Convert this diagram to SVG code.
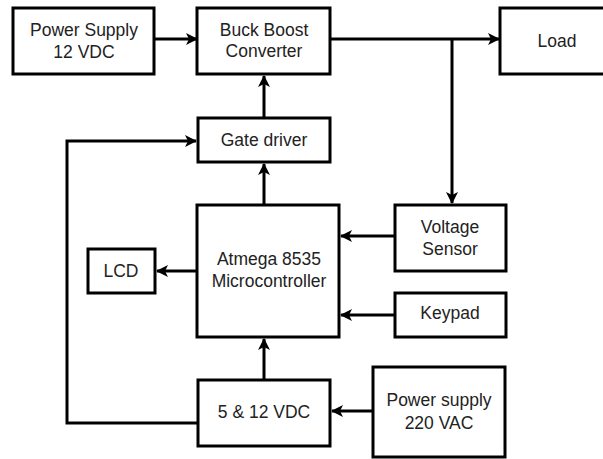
<svg xmlns="http://www.w3.org/2000/svg" width="603" height="459" viewBox="0 0 603 459">
<defs>
<marker id="ah" viewBox="0 0 12 12" refX="11" refY="6" markerWidth="12" markerHeight="12" markerUnits="userSpaceOnUse" orient="auto">
<path d="M0,0 L12,6 L0,12 L3,6 Z" fill="#000"/>
</marker>
<style>
.box{fill:#fff;stroke:#000;stroke-width:3}
.t{font-family:"Liberation Sans",Arial,sans-serif;font-size:17.5px;fill:#222;text-anchor:middle}
.c{fill:none;stroke:#000;stroke-width:3}
.a{marker-end:url(#ah)}
</style>
</defs>
<rect width="603" height="459" fill="#fff"/>
<g id="connectors">
<line class="c a" x1="154" y1="39" x2="197" y2="39"/>
<line class="c a" x1="330" y1="39" x2="499" y2="39"/>
<polyline class="c a" points="452,39 452,203"/>
<line class="c a" x1="264" y1="118" x2="264" y2="76"/>
<line class="c a" x1="264" y1="205" x2="264" y2="164"/>
<line class="c a" x1="197" y1="271" x2="157" y2="271"/>
<line class="c a" x1="395" y1="236" x2="341" y2="236"/>
<line class="c a" x1="395" y1="315" x2="341" y2="315"/>
<line class="c a" x1="264" y1="380" x2="264" y2="339"/>
<line class="c a" x1="373" y1="411" x2="332" y2="411"/>
<polyline class="c a" points="198,423 67,423 67,141 196,141"/>
</g>
<g id="ps12">
<rect class="box" x="13" y="8" width="141" height="66"/>
<text class="t" x="84" y="36">Power Supply</text>
<text class="t" x="84" y="58">12 VDC</text>
</g>
<g id="buckboost">
<rect class="box" x="197" y="8" width="133" height="66"/>
<text class="t" x="264" y="36">Buck Boost</text>
<text class="t" x="264" y="57">Converter</text>
</g>
<g id="load">
<rect class="box" x="500" y="8" width="110" height="66"/>
<text class="t" x="557" y="47">Load</text>
</g>
<g id="gatedriver">
<rect class="box" x="198" y="118" width="132" height="44"/>
<text class="t" x="264" y="146">Gate driver</text>
</g>
<g id="mcu">
<rect class="box" x="197" y="205" width="142" height="132"/>
<text class="t" x="269" y="265">Atmega 8535</text>
<text class="t" x="269" y="287">Microcontroller</text>
</g>
<g id="lcd">
<rect class="box" x="88" y="249" width="67" height="44"/>
<text class="t" x="121" y="277">LCD</text>
</g>
<g id="vsensor">
<rect class="box" x="395" y="205" width="111" height="66"/>
<text class="t" x="450" y="233">Voltage</text>
<text class="t" x="450" y="255">Sensor</text>
</g>
<g id="keypad">
<rect class="box" x="395" y="293" width="111" height="44"/>
<text class="t" x="450" y="319">Keypad</text>
</g>
<g id="dc">
<rect class="box" x="198" y="380" width="132" height="66"/>
<text class="t" x="264" y="418">5 &amp; 12 VDC</text>
</g>
<g id="ps220">
<rect class="box" x="373" y="367" width="132" height="90"/>
<text class="t" x="439" y="406">Power supply</text>
<text class="t" x="439" y="429">220 VAC</text>
</g>
</svg>
